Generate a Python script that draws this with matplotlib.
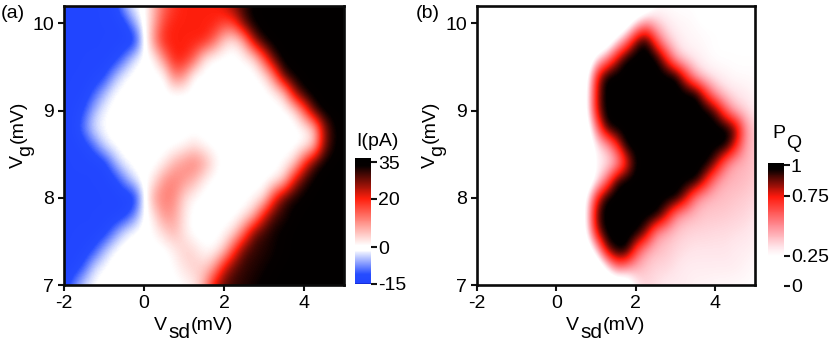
import numpy as np
import matplotlib
matplotlib.use("Agg")
import matplotlib.pyplot as plt
from matplotlib.colors import LinearSegmentedColormap, Normalize

plt.rcParams['font.family'] = ['Liberation Sans', 'DejaVu Sans']
plt.rcParams['axes.unicode_minus'] = False

# grid: Vsd -2..5 step 0.25, Vg 7..10.2 step 0.2 (bottom row first)
vsd = [-2, -1.75, -1.5, -1.25, -1, -.75, -.5, -.25, 0, .25, .5, .75, 1, 1.25, 1.5, 1.75, 2, 2.25, 2.5, 2.75,
       3, 3.25, 3.5, 3.75, 4, 4.25, 4.5, 4.75, 5]
vg = [7, 7.2, 7.4, 7.6, 7.8, 8, 8.2, 8.4, 8.6, 8.8, 9, 9.2, 9.4, 9.6, 9.8, 10, 10.2]

current = [
    [-13,-8,-3,-1,0,0,0,0,0,0,0,0,1,2,8,22,29,31,32,33,34,35,35,35,35,35,35,35,35],
    [-14,-13.5,-10,-3,-1,0,0,0,0,0,0,1,3,5,5,9,22,29,31,32,33,34,35,35,35,35,35,35,35],
    [-14,-14,-13.5,-11,-5,-1,0,0,0,0,0,2,5,4,1,1,5,18,29,31,32,33,34,35,35,35,35,35,35],
    [-14,-14,-14,-14,-13,-8,-2.5,-.5,0,1,4,7,3,0,0,0,1,4,14,28,31,33,34,35,35,35,35,35,35],
    [-14,-14,-14,-14,-14,-14,-13,-8,-1,3,10,9,3,0,0,0,0,0,2,7,22,30,32,34,35,35,35,35,35],
    [-14,-14,-14,-14,-14,-14,-14,-14,-2,9,12,11,4,1,0,0,0,0,0,1,3,19,30,33,34,35,35,35,35],
    [-14,-14,-14,-14,-14,-13,-8,-2.5,0,3,10,12,10,7,2,0,0,0,0,0,0,1,5,22,31,34,35,35,35],
    [-14,-14,-14,-14,-13,-6,-1.5,-.5,0,0,2,7,10,12,9,3,0,0,0,0,0,0,1,4,18,30,34,35,35],
    [-14,-14,-13,-9,-3,-1,0,0,0,0,0,0,1,3,1,0,0,0,0,0,0,0,0,0,1,5,26,33,35],
    [-14,-13,-8,-2.5,-1,0,0,0,0,0,0,0,0,0,0,0,0,0,0,0,0,0,0,0,1,5,25,33,35],
    [-14,-13.5,-11,-5,-1.5,-.5,0,0,0,0,0,0,0,0,0,0,0,0,0,0,0,0,0,2,14,30,35,35,35],
    [-14,-14,-13.5,-10,-5,-1,-.5,0,0,0,0,0,0,0,0,0,0,0,0,0,0,1,5,24,33,35,35,35,35],
    [-14,-14,-14,-13.5,-12,-6,-1.5,-.5,0,0,0,12,10,0,0,0,0,0,0,0,2,12,30,34,35,35,35,35,35],
    [-14,-14,-14,-14,-14,-13,-9,-2.5,-.5,1,11,20,20,15,3,0,0,0,1,3,16,30,35,35,35,35,35,35,35],
    [-14,-14,-14,-14,-14,-14,-14,-14,-2,11,20,20,20,20,20,14,5,2,8,25,33,35,35,35,35,35,35,35,35],
    [-14,-14,-14,-14,-14,-14,-13,-6,-.5,8,17,20,20,20,20,20,17,18,29,34,35,35,35,35,35,35,35,35,35],
    [-14,-14,-14,-14,-14,-13,-6,-1.5,0,7,14,18,20,20,20,20,22,27,31,34,35,35,35,35,35,35,35,35,35],
]

pq = [
    [0,0,0,0,0,0,0,0,0,0, 0,0,0,0,0,.05,.3,.35,.33,.3,.3,.3,.28,.28,.27,.27,.26,.26,.25],
    [0,0,0,0,0,0,0,0,0,0, 0,0,0,.25,.55,.5,.42,.38,.35,.35,.32,.3,.3,.3,.3,.3,.3,.28,.26],
    [0,0,0,0,0,0,0,0,0,0, 0,.05,.35,.85,1,1,.65,.45,.4,.38,.35,.33,.32,.32,.32,.32,.3,.3,.28],
    [0,0,0,0,0,0,0,0,0,0, 0,.25,.8,1,1,1,1,.85,.5,.42,.38,.36,.35,.35,.34,.34,.33,.32,.3],
    [0,0,0,0,0,0,0,0,0,0, 0,.3,.9,1,1,1,1,1,1,.8,.5,.42,.4,.38,.38,.37,.36,.35,.32],
    [0,0,0,0,0,0,0,0,0,0, 0,.25,.75,1,1,1,1,1,1,1,1,.8,.5,.42,.4,.4,.38,.37,.35],
    [0,0,0,0,0,0,0,0,0,0, 0,.05,.28,.55,.95,1,1,1,1,1,1,1,1,.75,.5,.42,.42,.4,.37],
    [0,0,0,0,0,0,0,0,0,0, 0,.05,.28,.3,.4,.7,.98,1,1,1,1,1,1,1,.85,.55,.42,.42,.38],
    [0,0,0,0,0,0,0,0,0,0, 0,.05,.3,.42,.7,1,1,1,1,1,1,1,1,1,1,1,.75,.45,.38],
    [0,0,0,0,0,0,0,0,0,0, 0,.1,.55,.95,1,1,1,1,1,1,1,1,1,1,1,1,.9,.5,.36],
    [0,0,0,0,0,0,0,0,0,0, 0,.2,.8,1,1,1,1,1,1,1,1,1,1,1,.9,.6,.4,.35,.3],
    [0,0,0,0,0,0,0,0,0,0, 0,.2,.8,1,1,1,1,1,1,1,1,1,1,.7,.45,.35,.32,.3,.27],
    [0,0,0,0,0,0,0,0,0,0, 0,.15,.75,1,1,1,1,1,1,1,1,.7,.42,.33,.3,.28,.26,.26,.26],
    [0,0,0,0,0,0,0,0,0,0, 0,0,.3,.5,.8,1,1,1,1,.75,.42,.33,.3,.27,.25,.25,.25,.25,.25],
    [0,0,0,0,0,0,0,0,0,0, 0,0,0,.05,.3,.55,.9,1,.65,.4,.32,.28,.27,.26,.25,.25,.25,.25,.25],
    [0,0,0,0,0,0,0,0,0,0, 0,0,0,0,0,.1,.35,.5,.38,.32,.28,.27,.26,.25,.25,.25,.25,.25,.25],
    [0,0,0,0,0,0,0,0,0,0, 0,0,0,0,0,0,0,.1,.25,.25,.25,.25,.25,.2,.2,.2,.2,.2,.2],
]

x_ticks = [-2, 0, 2, 4]
y_ticks = [7, 8, 9, 10]
cbar_a_ticks = [-15, 0, 20, 35]
cbar_b_ticks = [0, 0.25, 0.75, 1]
cbar_b_labels = ['0', '0.25', '0.75', '1']

W, H = 831, 345
fig = plt.figure(figsize=(W / 100, H / 100), dpi=100)


def box(l, t, r, b):
    return [l / W, 1 - b / H, (r - l) / W, (b - t) / H]


def put(px, py, s, **kw):
    fig.text(px / W, 1 - py / H, s, fontsize=kw.pop('fontsize', 14), **kw)


vmin_a, vmax_a = -15, 36.7
norm_a = Normalize(vmin_a, vmax_a)
cmap_a = LinearSegmentedColormap.from_list('iv', [
    (0, (0.0, 0.0, 0.55)),
    (norm_a(-14.7), (0.13, 0.27, 1.0)),
    (norm_a(-11), (0.15, 0.30, 1.0)),
    (norm_a(-1.2), (1, 1, 1)),
    (norm_a(0.8), (1, 1, 1)),
    (norm_a(20), (1.0, 0.12, 0.05)),
    (norm_a(33.5), (0.02, 0.0, 0.0)),
    (1, (0, 0, 0)),
])
norm_b = Normalize(0, 1.02)
cmap_b = LinearSegmentedColormap.from_list('pq', [
    (0, (1, 1, 1)),
    (norm_b(0.25), (1, 1, 1)),
    (norm_b(0.32), (1.0, 0.90, 0.92)),
    (norm_b(0.5), (1.0, 0.55, 0.58)),
    (norm_b(0.74), (1.0, 0.10, 0.05)),
    (norm_b(0.97), (0.02, 0.0, 0.0)),
    (1, (0, 0, 0)),
])

extent = [vsd[0] - .125, vsd[-1] + .125, vg[0] - .1, vg[-1] + .1]


def panel(rect, data, cmap, norm):
    ax = fig.add_axes(box(*rect))
    im = ax.imshow(np.array(data, float), origin='lower', extent=extent, aspect='auto',
                   cmap=cmap, norm=norm, interpolation='bicubic')
    ax.set_xlim(-2, 5)
    ax.set_ylim(7, 10.2)
    ax.set_xticks(x_ticks)
    ax.set_yticks(y_ticks)
    ax.tick_params(length=4, width=1.5, labelsize=14, pad=3, color='#111111')
    for s in ax.spines.values():
        s.set_linewidth(1.9)
        s.set_color('#0a0a0a')
    return im


def labels(dx):
    # x label pieces: V, subscript sd, (mV)
    put(154 + dx, 325, 'V', ha='left', va='center')
    put(168 + dx, 332, 'sd', ha='left', va='center', fontsize=15)
    put(191 + dx, 325, '(mV)', ha='left', va='center')
    # y label pieces, rotated
    put(18 + dx, 168, 'V', rotation=90, ha='center', va='bottom')
    put(26 + dx, 156, 'g', rotation=90, ha='center', va='bottom')
    put(18 + dx, 143, '(mV)', rotation=90, ha='center', va='bottom')


im_a = panel((64, 6, 344, 285), current, cmap_a, norm_a)
im_b = panel((477, 6, 755, 285), pq, cmap_b, norm_b)
labels(0)
labels(412)
put(1, 13, '(a)', ha='left', va='center')
put(416, 13, '(b)', ha='left', va='center')

cax_a = fig.add_axes(box(355, 158, 371, 284))
cb_a = fig.colorbar(im_a, cax=cax_a, ticks=cbar_a_ticks)
cb_a.outline.set_visible(False)
cb_a.ax.tick_params(length=4, width=1.5, labelsize=14, pad=1, color='#111111')
put(356, 141, 'I(pA)', ha='left', va='center')

cax_b = fig.add_axes(box(768, 163, 784, 286))
cb_b = fig.colorbar(im_b, cax=cax_b, ticks=cbar_b_ticks)
cb_b.ax.set_yticklabels(cbar_b_labels)
cb_b.outline.set_visible(False)
cb_b.ax.tick_params(length=4, width=1.5, labelsize=14, pad=1, color='#111111')
put(772, 133, 'P', ha='left', va='center')
put(786, 143, 'Q', ha='left', va='center')

fig.savefig('out.png', dpi=100)
